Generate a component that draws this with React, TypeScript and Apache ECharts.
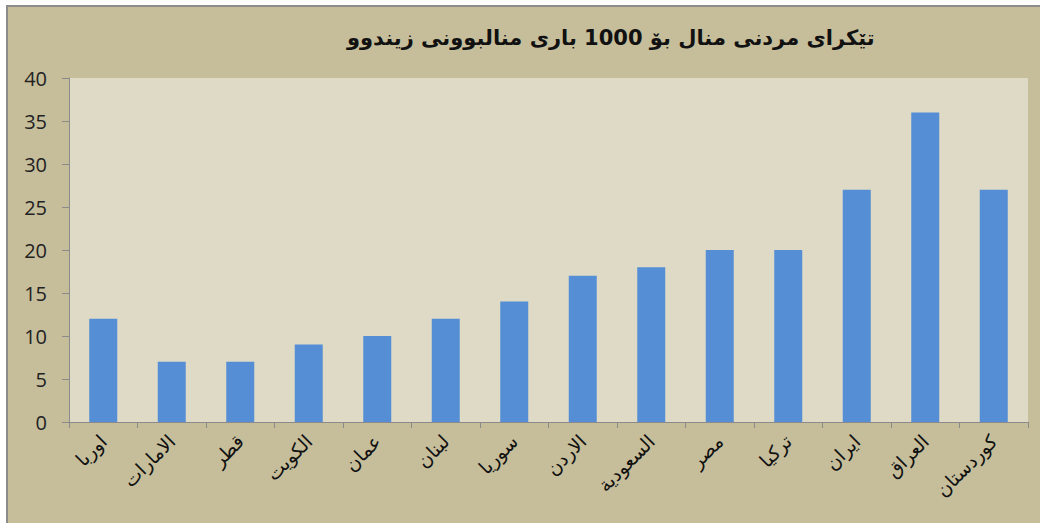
import React, { useEffect, useRef } from "react";
import * as echarts from "echarts";

const titleText = "تێکرای مردنی منال بۆ 1000 باری منالبوونی زیندوو";
const categories = ["اوربا", "الامارات", "قطر", "الكويت", "عمان", "لبنان", "سوريا", "الاردن", "السعودية", "مصر", "تركيا", "ايران", "العراق", "كوردستان"];
const values = [12, 7, 7, 9, 10, 12, 14, 17, 18, 20, 20, 27, 36, 27];
const yTicks = { min: 0, max: 40, interval: 5 };

export default function App() {
  const ref = useRef<HTMLDivElement>(null);
  useEffect(() => {
    const chart = echarts.init(ref.current!, null, { renderer: "svg" });
    chart.setOption({
      animation: false,
      backgroundColor: "transparent",
      graphic: [
        {
          type: "rect",
          z: -10,
          silent: true,
          shape: { x: 7, y: 6, width: 1040, height: 530 },
          style: { fill: "#c6be9b", stroke: "#8c8c8c", lineWidth: 2 },
        },
        {
          type: "text",
          left: 347,
          top: 27,
          style: {
            text: titleText,
            font: "bold 21px 'DejaVu Sans'",
            fill: "#111",
          },
        },
      ],
      grid: { left: 69, top: 78, right: 12, bottom: 101, show: true, backgroundColor: "#dedac6", borderWidth: 0 },
      xAxis: {
        type: "category",
        data: categories,
        axisLine: { lineStyle: { color: "#8a8a8a", width: 1 } },
        axisTick: { show: true, length: 6, alignWithLabel: false, lineStyle: { color: "#8a8a8a" } },
        axisLabel: {
          rotate: 45,
          interval: 0,
          fontSize: 19,
          fontFamily: "DejaVu Sans",
          color: "#111",
          margin: 16,
        },
      },
      yAxis: {
        type: "value",
        min: yTicks.min,
        max: yTicks.max,
        interval: yTicks.interval,
        splitLine: { show: false },
        axisLine: { show: true, lineStyle: { color: "#8a8a8a" } },
        axisTick: { show: true, length: 7, lineStyle: { color: "#8a8a8a" } },
        axisLabel: { fontSize: 20, fontFamily: "Open Sans", color: "#222", margin: 22 },
      },
      series: [
        {
          type: "bar",
          data: values,
          barWidth: 28,
          itemStyle: { color: "#558ed5" },
        },
      ],
    });
    return () => chart.dispose();
  }, []);
  return <div ref={ref} style={{ position: "absolute", left: 0, top: 0, width: 1040, height: 523 }} />;
}
